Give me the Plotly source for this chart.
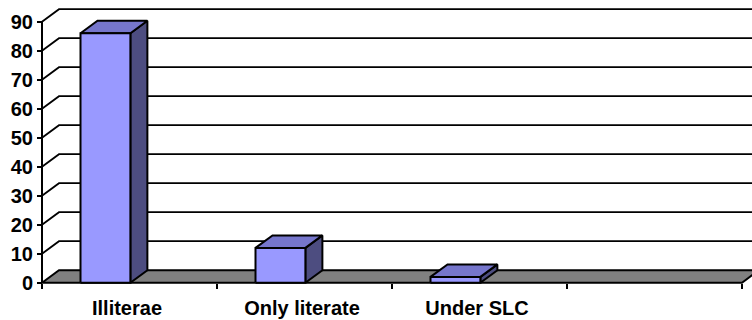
import plotly.graph_objects as go

# Data
categories = ["Illiterae", "Only literate", "Under SLC", ""]
values = [86, 12, 2, None]
y_ticks = [0, 10, 20, 30, 40, 50, 60, 70, 80, 90]

# Pseudo-3D geometry (x in category units, y in value units)
W, H = 752, 320
X_PX = 175.0          # pixels per category
Y_PX = 2.9            # pixels per value unit
X0_PX, Y0_PX = 42, 282.7
DEPTH_X = 17 / X_PX
DEPTH_Y = 12.5 / Y_PX
BAR_LEFT, BAR_RIGHT = 0.22, 0.505

x_range = [-X0_PX / X_PX, (W - X0_PX) / X_PX]
y_range = [-(H - Y0_PX) / Y_PX, Y0_PX / Y_PX]

FRONT = "#9999FF"
TOP = "#7676CC"
SIDE = "#4D4D80"
FLOOR = "#808080"
FONT = dict(family="Liberation Sans, Arial, sans-serif", size=20, color="black", weight="bold")

fig = go.Figure()


def poly(xs, ys, fill, width=2):
    fig.add_trace(go.Scatter(
        x=xs + [xs[0]], y=ys + [ys[0]], mode="lines", fill="toself",
        fillcolor=fill, line=dict(color="black", width=width),
        hoverinfo="skip", showlegend=False))


# Walls: side-wall diagonals and back-wall horizontals
gx, gy = [], []
top_val = max(y_ticks)
for v in y_ticks[1:]:
    gx += [0, DEPTH_X, x_range[1] + 0.2, None]
    gy += [v, v + DEPTH_Y, v + DEPTH_Y, None]
fig.add_trace(go.Scatter(x=gx, y=gy, mode="lines", line=dict(color="black", width=1.8),
                         hoverinfo="skip", showlegend=False))

# Floor
n = len(categories)
poly([0, n, n + DEPTH_X, DEPTH_X], [0, 0, DEPTH_Y, DEPTH_Y], FLOOR)

# Columns
for i, v in enumerate(values):
    if v is None:
        continue
    x0, x1 = i + BAR_LEFT, i + BAR_RIGHT
    poly([x1, x1 + DEPTH_X, x1 + DEPTH_X, x1], [0, DEPTH_Y, v + DEPTH_Y, v], SIDE)
    poly([x0, x1, x1 + DEPTH_X, x0 + DEPTH_X], [v, v, v + DEPTH_Y, v + DEPTH_Y], TOP)
    poly([x0, x1, x1, x0], [0, 0, v, v], FRONT)

# Value axis line
fig.add_trace(go.Scatter(x=[0, 0], y=[0, top_val], mode="lines",
                         line=dict(color="black", width=2), hoverinfo="skip", showlegend=False))

fig.update_layout(
    width=W, height=H,
    margin=dict(l=0, r=0, t=0, b=0),
    paper_bgcolor="white", plot_bgcolor="white",
    xaxis=dict(
        range=x_range, anchor="free", position=(H - Y0_PX) / H,
        tickmode="array", tickvals=list(range(n + 1)), ticktext=categories + [""],
        ticks="outside", ticklen=5, tickwidth=2, tickcolor="black",
        ticklabelshift=int(X_PX / 2 - 2), ticklabelstandoff=2, tickfont=FONT,
        showgrid=False, zeroline=False, showline=False,
    ),
    yaxis=dict(
        range=y_range, anchor="free", position=X0_PX / W,
        tickmode="array", tickvals=y_ticks,
        ticks="outside", ticklen=5, tickwidth=2, tickcolor="black",
        tickfont=FONT,
        showgrid=False, zeroline=False, showline=False,
    ),
)

fig.write_html("out.html")
